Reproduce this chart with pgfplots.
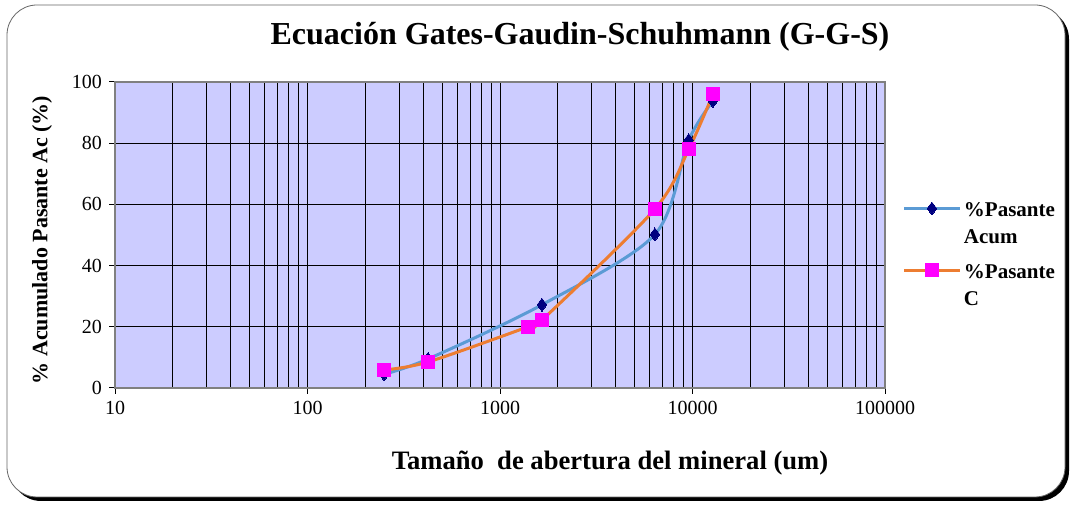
\documentclass[border=0pt]{standalone}
\usepackage{fontspec}
\setmainfont{Liberation Serif}
\usepackage{pgfplots}
\pgfplotsset{compat=1.18}

\definecolor{plotbg}{RGB}{204,204,255}
\definecolor{acumline}{RGB}{91,155,213}
\definecolor{acummark}{RGB}{0,0,128}
\definecolor{cline}{RGB}{237,125,49}
\definecolor{cmark}{RGB}{255,0,255}

\begin{document}
\begin{tikzpicture}
\useasboundingbox (0,0) rectangle (536.5pt,253pt);
% chart frame with shadow
\fill[black, rounded corners=15pt] (5.5pt,2.5pt) rectangle (534.5pt,248.5pt);
\draw[gray!80!black, fill=white, rounded corners=15pt] (3.5pt,4.5pt) rectangle (532.5pt,250.5pt);

\begin{axis}[
  at={(57.5pt,59pt)}, anchor=south west,
  width=385pt, height=153pt, scale only axis,
  xmode=log, xmin=10, xmax=100000,
  ymin=0, ymax=100,
  xtick={10,100,1000,10000,100000},
  xticklabels={10,100,1000,10000,100000},
  ytick={0,20,40,60,80,100},
  minor xtick={20,30,40,50,60,70,80,90,200,300,400,500,600,700,800,900,2000,3000,4000,5000,6000,7000,8000,9000,20000,30000,40000,50000,60000,70000,80000,90000},
  grid=both,
  major grid style={black, line width=0.5pt},
  minor grid style={black, line width=0.5pt},
  axis background/.style={fill=plotbg},
  axis line style={gray, line width=1pt},
  tick style={black, line width=0.5pt},
  major tick length=3pt, minor tick length=0pt,
  tick align=outside,
  xtick pos=bottom, ytick pos=left,
  ticklabel style={font=\rmfamily\fontsize{10}{12}\selectfont},
  /pgf/number format/assume math mode=true,
  legend image code/.code={
    \draw[mark repeat=2, mark phase=2, #1] plot coordinates {(0pt,0pt) (13.75pt,0pt) (27.5pt,0pt)};},
  legend style={at={(1.015,0.65)}, anchor=north west, draw=none, fill=none,
    font=\bfseries\fontsize{10.5}{13.5}\selectfont, row sep=16pt,
    /tikz/every odd column/.append style={column sep=-0.5pt}},
  legend cell align=left,
]
\addplot[acumline, line width=1.5pt, smooth, tension=0.5,
  mark=diamond*, mark size=3.2pt,
  mark options={fill=acummark, draw=acummark, line width=0pt}]
  coordinates {(250,4.5) (423,9.5) (1652,27.2) (6380,50.2) (9560,81) (12770,93.8)};
\addlegendentry{\begin{tabular}[t]{@{}l@{}}\%Pasante\\Acum\end{tabular}}
\addplot[cline, line width=1.5pt, smooth, tension=0.5,
  mark=square*, mark size=3.3pt,
  mark options={fill=cmark, draw=cmark, line width=0pt}]
  coordinates {(250,5.9) (423,8.5) (1398,20) (1652,22.2) (6380,58.5) (9560,78) (12770,96)};
\addlegendentry{\begin{tabular}[t]{@{}l@{}}\%Pasante\\C\end{tabular}}
\end{axis}

\node[font=\bfseries\fontsize{16}{18}\selectfont] at (290pt,234.5pt) {Ecuación Gates-Gaudin-Schuhmann (G-G-S)};
\node[font=\bfseries\fontsize{13.3}{15}\selectfont] at (305pt,21.5pt) {Tamaño\ \ de abertura del mineral (um)};
\node[font=\bfseries\fontsize{11}{13}\selectfont, rotate=90] at (21pt,133pt) {\% Acumulado Pasante Ac (\%)};
\end{tikzpicture}
\end{document}
